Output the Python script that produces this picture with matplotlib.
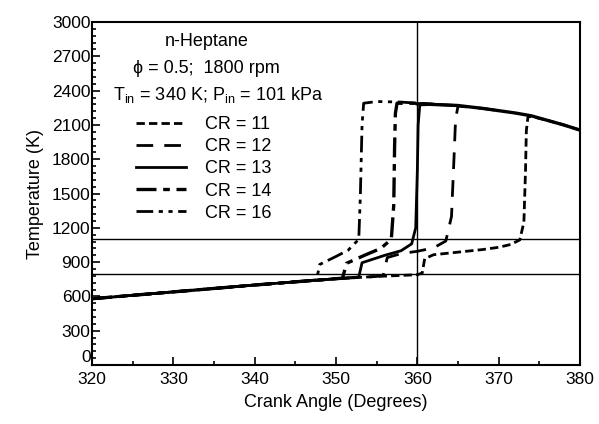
import numpy as np
import matplotlib.pyplot as plt

plt.rcParams['font.family'] = ['Liberation Sans', 'DejaVu Sans']
plt.rcParams['mathtext.default'] = 'regular'

# crank angle (deg) and temperature (K) for each compression ratio
ca_11 = [320, 325, 330, 335, 340, 345, 350, 355, 360, 360.6, 360.9, 362, 364, 366, 368, 370,
         371.5, 372.6, 373.1, 373.3, 373.4, 373.6, 374, 376, 378, 380]
t_11 = [580, 610, 640, 670, 700, 728, 755, 775, 790, 805, 930, 965, 980, 995, 1010, 1030,
        1055, 1095, 1250, 1700, 2050, 2170, 2175, 2140, 2100, 2055]

ca_12 = [320, 325, 330, 335, 340, 345, 350, 355, 355.8, 356.3, 358, 360, 362, 363.5, 364.2,
         364.5, 364.7, 365, 368, 370]
t_12 = [580, 610, 640, 670, 700, 728, 755, 775, 785, 940, 975, 995, 1025, 1085, 1300,
        1800, 2150, 2265, 2245, 2225]

ca_13 = [320, 325, 330, 335, 340, 345, 350, 352.8, 353.2, 356, 358, 359.3, 359.8, 360.0, 360.1,
         360.3, 362, 365]
t_13 = [580, 610, 640, 670, 700, 728, 755, 770, 895, 960, 1000, 1060, 1200, 1700, 2100,
        2275, 2280, 2270]

ca_14 = [320, 325, 330, 335, 340, 345, 350, 350.8, 351.3, 353.5, 355.5, 356.8, 357.1, 357.2,
         357.3, 357.5, 360, 362]
t_14 = [580, 610, 640, 670, 700, 728, 755, 760, 890, 960, 1020, 1100, 1400, 1900, 2200,
        2290, 2290, 2280]

ca_16 = [320, 325, 330, 335, 340, 345, 347.6, 348.0, 350, 351.5, 352.8, 353.0, 353.2, 353.4,
         355, 358, 360, 362]
t_16 = [580, 610, 640, 670, 700, 728, 745, 880, 950, 1005, 1100, 1500, 2100, 2290,
        2305, 2300, 2290, 2280]

# common post-ignition temperature curve
ca_hot = [360, 365, 368, 370, 372, 374, 376, 378, 380]
t_hot = [2285, 2270, 2245, 2225, 2205, 2180, 2140, 2100, 2055]

ref_temps = [1100, 800]
ref_angle = 360

fig = plt.figure(figsize=(5.99, 4.24), dpi=100)
ax = fig.add_axes([0.1536, 0.139, 0.8147, 0.809])

ax.plot(ca_hot, t_hot, color='black', lw=2.4)
ax.plot(ca_11, t_11, color='black', lw=2.0, dashes=(3, 1.5), label='CR = 11')
ax.plot(ca_12, t_12, color='black', lw=2.0, dashes=(6, 4), label='CR = 12')
ax.plot(ca_13, t_13, color='black', lw=2.0, label='CR = 13')
ax.plot(ca_14, t_14, color='black', lw=2.4, dashes=(6, 2, 2, 2), label='CR = 14')
ax.plot(ca_16, t_16, color='black', lw=2.0, dashes=(6, 2, 1.5, 2, 1.5, 2), label='CR = 16')

for t in ref_temps:
    ax.axhline(t, color='black', lw=1.0)
ax.axvline(ref_angle, color='black', lw=1.0)

ax.set_xlim(320, 380)
ax.set_ylim(0, 3000)
ax.set_xticks(np.arange(320, 381, 10))
ax.set_xticks(np.arange(320, 381, 5), minor=True)
ax.set_yticks(np.arange(0, 3001, 300))
ax.set_yticks(np.arange(0, 3001, 60), minor=True)
ax.tick_params(which='both', direction='in', labelsize=12.5, width=1.2)
ax.tick_params(which='major', length=6)
ax.tick_params(which='minor', length=3)
ax.tick_params(axis='x', pad=5)
ax.tick_params(axis='y', pad=1)
for s in ax.spines.values():
    s.set_linewidth(1.5)

# the "0" sits a little above the x-axis in the original
ax.yaxis.get_major_ticks()[0].label1.set_va('bottom')

ax.set_xlabel('Crank Angle (Degrees)', fontsize=13, labelpad=5)
ax.set_ylabel('Temperature (K)', fontsize=13, labelpad=6)

ax.text(334.1, 2826, 'n-Heptane', fontsize=13, ha='center', va='center')
ax.text(325.0, 2598, '\u03d5 = 0.5;  1800 rpm', fontsize=13, ha='left', va='center')
ax.text(322.6, 2362, 'T$_{in}$ = 340 K; P$_{in}$ = 101 kPa', fontsize=13, ha='left', va='center')

ax.legend(loc='upper left', bbox_to_anchor=(0.09, 0.725), frameon=False, fontsize=13,
          handlelength=2.8, handletextpad=1.0, labelspacing=0.28, borderpad=0, borderaxespad=0)

fig.savefig('out.png', dpi=100)
